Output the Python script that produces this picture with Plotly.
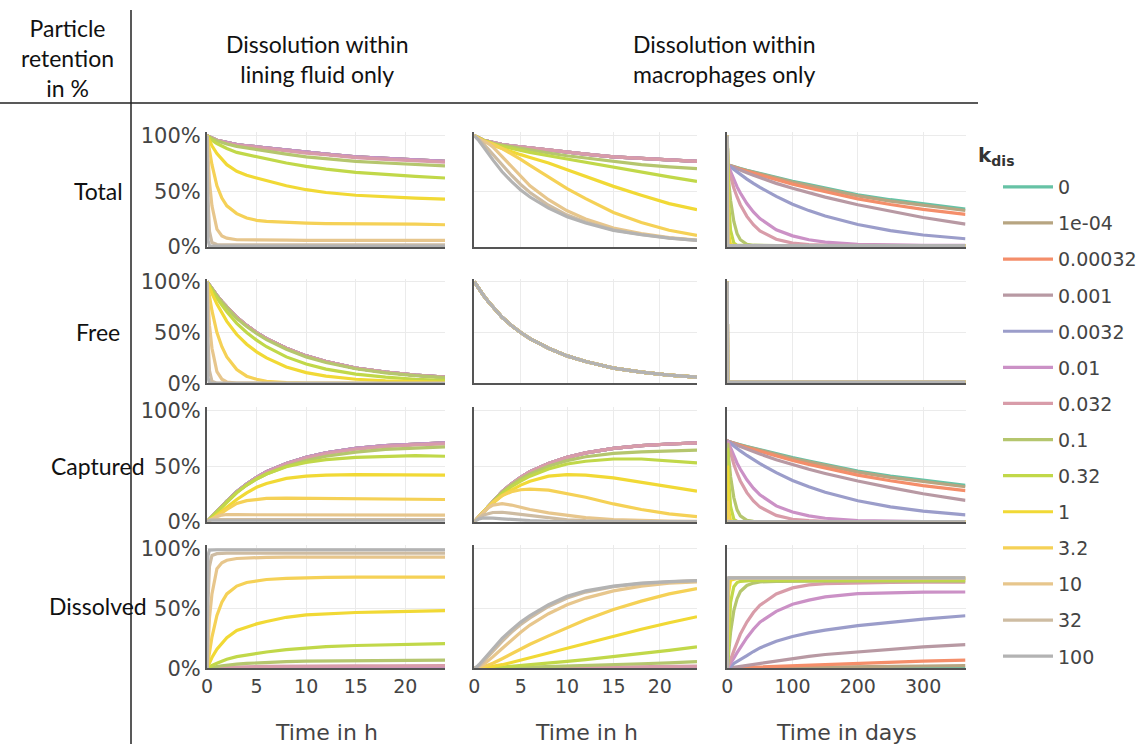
import plotly.graph_objects as go
from plotly.subplots import make_subplots

# ---------------- categories ----------------
KDIS = ["0", "1e-04", "0.00032", "0.001", "0.0032", "0.01", "0.032",
        "0.1", "0.32", "1", "3.2", "10", "32", "100"]
COLORS = ["#66c2a5", "#b7a581", "#f48e6a", "#b899a3", "#9b9dca", "#cb91c6", "#d89ca9",
          "#b5c66e", "#c1d849", "#f1d935", "#f5d156", "#e7c68c", "#cebca2", "#b3b3b3"]
ROW_LABELS = ["Total", "Free", "Captured", "Dissolved"]

# time grids
T_H = [0, 0.1, 0.25, 0.5, 1, 1.5, 2, 3, 4, 5, 6, 8, 10, 12, 15, 18, 21, 24]
T_D = [0, 0.5, 2, 5, 10, 15, 20, 30, 40, 50, 75, 100, 125, 150, 200, 250, 300, 365]
ZERO = [0, 0, 0, 0, 0, 0, 0, 0, 0, 0, 0, 0, 0, 0, 0, 0, 0, 0]

# ---------------- column 1: dissolution within lining fluid (hours) ----------------
LF_TOT_LOW = [100, 99.5, 99, 98, 96, 95, 93.5, 92, 91, 90, 89, 87, 85, 83.5, 81, 79.5, 78, 77]
LF_TOT_K0_032 = [100, 99.5, 99, 98, 96, 94.8, 93.3, 91.7, 90.6, 89.6, 88.5, 86.5, 84.4, 82.9, 80.3, 78.7, 77.2, 76.2]
LF_TOT_K0_1 = [100, 99.4, 98.8, 97.5, 95.5, 94, 92.5, 90.5, 89, 87.5, 86, 83.5, 81, 79.5, 77, 75.5, 74, 73]
LF_TOT_K0_32 = [100, 99, 98, 96, 93, 90.5, 88.5, 85, 83, 81, 79, 75.5, 72.5, 70, 67, 65, 63.5, 62]
LF_TOT_K1 = [100, 98, 95, 91, 84, 78.5, 74, 68, 64.5, 62, 59.5, 55, 51.5, 49, 46.5, 45, 44, 43]
LF_TOT_K3_2 = [100, 94, 86, 74, 55, 44, 37, 30, 26, 24, 23, 22, 21.5, 21, 21, 20.5, 20.5, 20]
LF_TOT_K10 = [100, 80, 58, 37, 16, 10, 8, 6.5, 6.3, 6.2, 6.2, 6.1, 6, 6, 6, 6, 6, 6]
LF_TOT_K32 = [100, 45, 14, 4, 2.2, 2.1, 2, 2, 2, 2, 2, 2, 2, 2, 2, 2, 2, 2]
LF_TOT_K100 = [100, 6, 1, 0.7, 0.7, 0.7, 0.7, 0.7, 0.7, 0.7, 0.7, 0.7, 0.7, 0.7, 0.7, 0.7, 0.7, 0.7]

LF_FREE_LOW = [100, 98.6, 96.5, 93, 86.5, 80.5, 75, 65, 57, 50, 44, 34.5, 27, 21.5, 15, 11, 8, 6]
LF_FREE_K0_1 = [100, 98.5, 96.3, 92.6, 86, 80, 74.3, 64, 56, 49, 43, 33.5, 26, 20.5, 14.3, 10.3, 7.5, 5.5]
LF_FREE_K0_32 = [100, 98.3, 95.8, 91.5, 84, 77, 70.5, 59, 50, 42.5, 36, 26, 19, 14, 9, 6, 4, 3]
LF_FREE_K1 = [100, 97.5, 94, 88.5, 78, 69, 61, 48, 38.5, 31, 25, 16, 10.5, 7, 4, 2.5, 1.5, 1]
LF_FREE_K3_2 = [100, 93.5, 85, 71.5, 50, 36, 26, 13.5, 7, 4, 2, 0.7, 0.3, 0.1, 0, 0, 0, 0]
LF_FREE_K10 = [100, 79.5, 57, 34.5, 11.5, 4, 1.3, 0.2, 0, 0, 0, 0, 0, 0, 0, 0, 0, 0]
LF_FREE_K32 = [100, 44, 12.5, 2, 0.1, 0, 0, 0, 0, 0, 0, 0, 0, 0, 0, 0, 0, 0]
LF_FREE_K100 = [100, 5.5, 0.3, 0, 0, 0, 0, 0, 0, 0, 0, 0, 0, 0, 0, 0, 0, 0]

LF_CAP_LOW = [0, 0.9, 2.5, 5, 9.5, 14.5, 18.5, 27, 34, 40, 45, 52.5, 58, 62, 66, 68.5, 70, 71]
LF_CAP_K0_032 = [0, 0.9, 2.5, 5, 9.5, 14.3, 18.3, 26.7, 33.6, 39.6, 44.5, 52, 57.4, 61.4, 65.3, 67.7, 69.2, 70.2]
LF_CAP_K0_1 = [0, 0.9, 2.5, 4.9, 9.5, 14, 18.2, 26.5, 33, 38.5, 43, 50, 55, 59, 62.7, 65.2, 66.5, 67.5]
LF_CAP_K0_32 = [0, 0.7, 2.2, 4.5, 9, 13.5, 18, 26, 33, 38.5, 43, 49.5, 53.5, 56, 58, 59, 59.5, 59]
LF_CAP_K1 = [0, 0.5, 1, 2.5, 6, 9.5, 13, 20, 26, 31, 34.5, 39, 41, 42, 42.5, 42.5, 42.5, 42]
LF_CAP_K3_2 = [0, 0.5, 1, 2.5, 5, 8, 11, 16.5, 19, 20, 21, 21.3, 21.2, 21, 21, 20.5, 20.5, 20]
LF_CAP_K10 = [0, 0.5, 1, 2.5, 4.5, 6, 6.5, 6.3, 6.3, 6.2, 6.2, 6.1, 6, 6, 6, 6, 6, 6]
LF_CAP_K32 = [0, 1, 1.5, 2, 2.1, 2, 2, 2, 2, 2, 2, 2, 2, 2, 2, 2, 2, 2]
LF_CAP_K100 = [0, 0.5, 0.7, 0.7, 0.7, 0.7, 0.7, 0.7, 0.7, 0.7, 0.7, 0.7, 0.7, 0.7, 0.7, 0.7, 0.7, 0.7]

LF_DIS_K0_01 = [0, 0, 0, 0.1, 0.2, 0.2, 0.3, 0.4, 0.5, 0.5, 0.5, 0.6, 0.6, 0.7, 0.7, 0.7, 0.7, 0.7]
LF_DIS_K0_032 = [0, 0.1, 0.1, 0.3, 0.5, 0.7, 0.9, 1.2, 1.4, 1.5, 1.6, 1.8, 1.9, 2, 2.1, 2.1, 2.2, 2.2]
LF_DIS_K0_1 = [0, 0.2, 0.4, 0.8, 1.5, 2.1, 2.7, 3.5, 4.1, 4.6, 5, 5.5, 6, 6.2, 6.5, 6.6, 6.7, 6.8]
LF_DIS_K0_32 = [0, 0.5, 1.2, 2.3, 4.2, 6, 7.5, 9.7, 11.2, 12.5, 13.6, 15.5, 17, 18, 19, 19.7, 20.2, 20.5]
LF_DIS_K1 = [0, 2, 5, 9, 16, 21, 25.5, 31.5, 34.5, 37, 39, 42.5, 44.5, 45.5, 46.5, 47, 47.5, 48]
LF_DIS_K3_2 = [0, 6, 14, 26, 44, 55, 62, 68.5, 71.5, 73, 74, 75, 75.5, 75.7, 76, 76, 76, 76]
LF_DIS_K10 = [0, 20, 42, 62, 83, 88, 90, 91.5, 92, 92.3, 92.5, 92.6, 92.6, 92.6, 92.6, 92.6, 92.6, 92.6]
LF_DIS_K32 = [0, 55, 85, 94, 95.5, 95.8, 96, 96, 96, 96, 96, 96, 96, 96, 96, 96, 96, 96]
LF_DIS_K100 = [0, 94, 98.5, 98.8, 98.8, 98.8, 98.8, 98.8, 98.8, 98.8, 98.8, 98.8, 98.8, 98.8, 98.8, 98.8, 98.8, 98.8]

# ---------------- column 2: dissolution within macrophages (hours) ----------------
MP_FREE_ALL = [100, 98.6, 96.5, 93, 86.5, 80.5, 75, 65, 57, 50, 44, 34.5, 27, 21.5, 15, 11, 8, 6]

MP_TOT_LOW = [100, 99.5, 99, 98, 96, 95, 93.5, 92, 91, 90, 89, 87, 85, 83.5, 81, 79.5, 78, 77]
MP_TOT_K0_1 = [100, 99.5, 99, 98, 95.9, 94.7, 93.2, 91.5, 90, 88.5, 87, 84.5, 82, 80, 76.5, 74, 72, 70.5]
MP_TOT_K0_32 = [100, 99.5, 98.9, 97.9, 95.7, 94.3, 92.6, 90.5, 88.5, 86.5, 85, 82, 79, 76, 71.5, 67.5, 63, 59]
MP_TOT_K1 = [100, 99.5, 98.8, 97.7, 95.3, 93.5, 91.5, 88.5, 85.5, 83, 80.5, 75.5, 69.5, 63.5, 54.5, 46.5, 39, 33.5]
MP_TOT_K3_2 = [100, 99.4, 98.6, 97.5, 95.5, 94, 92.5, 88.5, 84, 78.8, 73.3, 63, 52.5, 43.5, 31, 22, 15, 10.5]
MP_TOT_K10 = [100, 99.4, 98.5, 97.2, 95, 93, 90, 81.3, 72, 63, 55, 42.5, 32.5, 25.2, 17, 12, 8.5, 6.3]
MP_TOT_K32 = [100, 99.3, 98.3, 96.5, 92.5, 88, 83.3, 73.5, 64.5, 56.2, 49, 37.5, 28.7, 22.5, 15.4, 11.2, 8.1, 6]
MP_TOT_K100 = [100, 99.2, 97.9, 95.5, 89.9, 84, 78.3, 67.6, 58.9, 51.3, 44.9, 34.9, 27.2, 21.6, 15, 11, 8, 6]

MP_CAP_LOW = [0, 0.9, 2.5, 5, 9.5, 14.5, 18.5, 27, 34, 40, 45, 52.5, 58, 62, 66, 68.5, 70, 71]
MP_CAP_K0_1 = [0, 0.9, 2.5, 5, 9.4, 14.2, 18.2, 26.5, 33, 38.5, 43, 50, 55, 58.5, 61.5, 63, 64, 64.5]
MP_CAP_K0_32 = [0, 0.9, 2.4, 4.9, 9.2, 13.8, 17.6, 25.5, 31.5, 36.5, 41, 47.5, 52, 54.5, 56.5, 56.5, 55, 53]
MP_CAP_K1 = [0, 0.9, 2.3, 4.7, 8.8, 13, 16.5, 23.5, 28.5, 33, 36.5, 41, 42.5, 42, 39.5, 35.5, 31, 27.5]
MP_CAP_K3_2 = [0, 0.8, 2.1, 4.5, 9, 13.5, 17.5, 23.5, 27, 28.8, 29.3, 28.5, 25.5, 22, 16, 11, 7, 4.5]
MP_CAP_K10 = [0, 0.8, 2, 4.2, 8.5, 12.5, 15, 16.3, 15, 13, 11, 8, 5.5, 3.7, 2, 1, 0.5, 0.3]
MP_CAP_K32 = [0, 0.7, 1.8, 3.5, 6, 7.5, 8.3, 8.5, 7.5, 6.2, 5, 3, 1.7, 1, 0.4, 0.2, 0.1, 0]
MP_CAP_K100 = [0, 0.6, 1.4, 2.5, 3.4, 3.5, 3.3, 2.6, 1.9, 1.3, 0.9, 0.4, 0.2, 0.1, 0, 0, 0, 0]

MP_DIS_K0_01 = [0, 0, 0, 0, 0, 0, 0, 0, 0.1, 0.1, 0.1, 0.1, 0.2, 0.2, 0.3, 0.4, 0.5, 0.6]
MP_DIS_K0_032 = [0, 0, 0, 0, 0, 0, 0, 0.1, 0.2, 0.2, 0.3, 0.4, 0.6, 0.7, 1, 1.2, 1.5, 1.8]
MP_DIS_K0_1 = [0, 0, 0, 0, 0, 0.1, 0.1, 0.3, 0.5, 0.7, 0.9, 1.3, 1.8, 2.3, 3, 3.8, 4.6, 5.5]
MP_DIS_K0_32 = [0, 0, 0, 0, 0.1, 0.3, 0.5, 1, 1.6, 2.2, 2.9, 4.3, 5.8, 7.3, 9.7, 12.2, 15, 17.8]
MP_DIS_K1 = [0, 0, 0, 0.1, 0.5, 1, 1.6, 3, 4.8, 6.8, 9, 13, 17, 21, 27, 32.5, 38, 43]
MP_DIS_K3_2 = [0, 0, 0.1, 0.4, 1.3, 2.6, 4.2, 8, 12, 16, 20, 27, 34, 40.5, 49, 56, 62, 66.5]
MP_DIS_K10 = [0, 0.1, 0.3, 1, 3.2, 6, 9.5, 16.5, 23.5, 30, 36, 45.5, 53, 58.5, 64.5, 68.5, 71, 72]
MP_DIS_K32 = [0, 0.2, 0.7, 2, 5.5, 10, 14.5, 22.5, 30, 36.5, 42, 51.5, 58.5, 63.5, 68, 70.5, 72, 73]
MP_DIS_K100 = [0, 0.4, 1.2, 3, 7.5, 12.5, 17, 25, 32, 38.5, 44, 53, 60, 64.5, 68.5, 71, 72.3, 73]

# ---------------- column 3: dissolution within macrophages (days) ----------------
LT_FREE_ALL = [100, 1.3, 1.3, 1.3, 1.3, 1.3, 1.3, 1.3, 1.3, 1.3, 1.3, 1.3, 1.3, 1.3, 1.3, 1.3, 1.3, 1.3]

LT_TOT_K0 = [100, 74, 73.6, 73, 72.2, 71.4, 70.6, 69, 67.5, 66, 62.5, 59, 56, 53, 47, 42.5, 38.5, 34]
LT_TOT_K1E4 = [100, 74, 73.6, 73, 72.1, 71.3, 70.4, 68.8, 67.2, 65.6, 61.9, 58.3, 55.2, 52.1, 46, 41.3, 37.3, 32.8]
LT_TOT_K0_00032 = [100, 74, 73.5, 72.8, 71.8, 70.9, 69.9, 68, 66.3, 64.5, 60.4, 56.5, 53, 49.7, 43.3, 38.2, 33.8, 29.3]
LT_TOT_K0_001 = [100, 74, 73.5, 72.7, 71.5, 70.3, 69.1, 66.8, 64.5, 62.3, 57.2, 52.8, 48.5, 44.8, 38, 32, 26.5, 20.5]
LT_TOT_K0_0032 = [100, 74, 73.2, 71.8, 69.5, 67.3, 65.1, 61, 57.2, 53.6, 45.5, 38.5, 32.7, 27.8, 20.2, 14.7, 10.8, 7.4]
LT_TOT_K0_01 = [100, 74, 72, 67.5, 60.5, 54, 48.5, 39, 31.5, 25.5, 15.5, 10, 6.5, 4.4, 2.4, 1.7, 1.5, 1.4]
LT_TOT_K0_032 = [100, 73.4, 70, 63, 53, 45, 38, 27.5, 20, 14.5, 7, 3.5, 2.2, 1.7, 1.4, 1.3, 1.3, 1.3]
LT_TOT_K0_1 = [100, 72, 60, 42, 23, 12, 6.5, 2.5, 1.6, 1.4, 1.3, 1.3, 1.3, 1.3, 1.3, 1.3, 1.3, 1.3]
LT_TOT_K0_32 = [100, 68, 40, 15, 3.5, 1.6, 1.4, 1.3, 1.3, 1.3, 1.3, 1.3, 1.3, 1.3, 1.3, 1.3, 1.3, 1.3]
LT_TOT_K1 = [100, 52, 12, 2, 1.3, 1.3, 1.3, 1.3, 1.3, 1.3, 1.3, 1.3, 1.3, 1.3, 1.3, 1.3, 1.3, 1.3]
LT_TOT_K3_2 = [100, 20, 1.5, 1.3, 1.3, 1.3, 1.3, 1.3, 1.3, 1.3, 1.3, 1.3, 1.3, 1.3, 1.3, 1.3, 1.3, 1.3]
LT_TOT_K10 = [100, 3, 1.3, 1.3, 1.3, 1.3, 1.3, 1.3, 1.3, 1.3, 1.3, 1.3, 1.3, 1.3, 1.3, 1.3, 1.3, 1.3]
LT_TOT_K32 = [100, 1.5, 1.3, 1.3, 1.3, 1.3, 1.3, 1.3, 1.3, 1.3, 1.3, 1.3, 1.3, 1.3, 1.3, 1.3, 1.3, 1.3]
LT_TOT_K100 = [100, 1.3, 1.3, 1.3, 1.3, 1.3, 1.3, 1.3, 1.3, 1.3, 1.3, 1.3, 1.3, 1.3, 1.3, 1.3, 1.3, 1.3]

LT_CAP_K0 = [0, 72.7, 72.3, 71.7, 70.9, 70.1, 69.3, 67.7, 66.2, 64.7, 61.2, 57.7, 54.7, 51.7, 45.7, 41.2, 37.2, 32.7]
LT_CAP_K1E4 = [0, 72.7, 72.3, 71.7, 70.8, 70, 69.1, 67.5, 65.9, 64.3, 60.6, 57, 53.9, 50.8, 44.7, 40, 36, 31.5]
LT_CAP_K0_00032 = [0, 72.7, 72.2, 71.5, 70.5, 69.6, 68.6, 66.7, 65, 63.2, 59.1, 55.2, 51.7, 48.4, 42, 36.9, 32.5, 28]
LT_CAP_K0_001 = [0, 72.7, 72.2, 71.4, 70.2, 69, 67.8, 65.5, 63.2, 61, 55.9, 51.5, 47.2, 43.5, 36.7, 30.7, 25.2, 19.2]
LT_CAP_K0_0032 = [0, 72.7, 71.9, 70.5, 68.2, 66, 63.8, 59.7, 55.9, 52.3, 44.2, 37.2, 31.4, 26.5, 18.9, 13.4, 9.5, 6.1]
LT_CAP_K0_01 = [0, 72.7, 70.7, 66.2, 59.2, 52.7, 47.2, 37.7, 30.2, 24.2, 14.2, 8.7, 5.2, 3.1, 1.1, 0.4, 0.2, 0.1]
LT_CAP_K0_032 = [0, 72.1, 68.7, 61.7, 51.7, 43.7, 36.7, 26.2, 18.7, 13.2, 5.7, 2.2, 0.9, 0.4, 0.1, 0, 0, 0]
LT_CAP_K0_1 = [0, 70.7, 58.7, 40.7, 21.7, 10.7, 5.2, 1.2, 0.3, 0.1, 0, 0, 0, 0, 0, 0, 0, 0]
LT_CAP_K0_32 = [0, 66.7, 38.7, 13.7, 2.2, 0.3, 0.1, 0, 0, 0, 0, 0, 0, 0, 0, 0, 0, 0]
LT_CAP_K1 = [0, 50.7, 10.7, 0.7, 0, 0, 0, 0, 0, 0, 0, 0, 0, 0, 0, 0, 0, 0]
LT_CAP_K3_2 = [0, 18.7, 0.2, 0, 0, 0, 0, 0, 0, 0, 0, 0, 0, 0, 0, 0, 0, 0]
LT_CAP_K10 = [0, 1.7, 0, 0, 0, 0, 0, 0, 0, 0, 0, 0, 0, 0, 0, 0, 0, 0]
LT_CAP_K32 = [0, 0.2, 0, 0, 0, 0, 0, 0, 0, 0, 0, 0, 0, 0, 0, 0, 0, 0]

LT_DIS_K1E4 = [0, 0, 0, 0, 0.1, 0.1, 0.2, 0.2, 0.3, 0.4, 0.6, 0.8, 1, 1.1, 1.4, 1.7, 1.9, 2.2]
LT_DIS_K0_00032 = [0, 0, 0, 0.1, 0.2, 0.4, 0.5, 0.7, 0.9, 1.2, 1.8, 2.3, 2.8, 3.3, 4.2, 5.1, 5.9, 6.8]
LT_DIS_K0_001 = [0, 0, 0.1, 0.4, 0.8, 1.2, 1.6, 2.4, 3.2, 4, 6, 8.2, 10, 11.5, 13.7, 15.9, 17.8, 19.7]
LT_DIS_K0_0032 = [0, 0.1, 0.5, 1.2, 4, 5.8, 7.5, 10.5, 14, 17, 22.5, 26.5, 29.5, 31.8, 35.6, 38.5, 41, 43.8]
LT_DIS_K0_01 = [0, 0.4, 1.5, 4, 8.5, 13, 17.5, 25.5, 32.5, 38.5, 47.5, 53.4, 56.8, 59.5, 62.2, 63, 63.4, 63.6]
LT_DIS_K0_032 = [0, 0.6, 2.5, 7, 14.5, 22, 28.5, 38.5, 46.5, 52.5, 62, 67, 69.5, 70.5, 71.3, 71.6, 71.8, 71.8]
LT_DIS_K0_1 = [0, 3, 13, 30, 48, 58, 64, 69, 71, 72, 72.5, 72.7, 72.7, 72.7, 72.7, 72.7, 72.7, 72.7]
LT_DIS_K0_32 = [0, 6, 30, 55, 68, 71.5, 72.5, 73, 73.2, 73.3, 73.5, 73.5, 73.5, 73.5, 73.5, 73.5, 73.5, 73.5]
LT_DIS_K1 = [0, 24, 63, 73.5, 74.5, 74.8, 75, 75, 75, 75, 75, 75, 75, 75, 75, 75, 75, 75]
LT_DIS_K3_2 = [0, 57, 74.3, 75, 75, 75, 75, 75, 75, 75, 75, 75, 75, 75, 75, 75, 75, 75]
LT_DIS_K10 = [0, 73.5, 75, 75.2, 75.2, 75.2, 75.2, 75.2, 75.2, 75.2, 75.2, 75.2, 75.2, 75.2, 75.2, 75.2, 75.2, 75.2]
LT_DIS_K32 = [0, 75.1, 75.3, 75.3, 75.3, 75.3, 75.3, 75.3, 75.3, 75.3, 75.3, 75.3, 75.3, 75.3, 75.3, 75.3, 75.3, 75.3]
LT_DIS_K100 = [0, 75.3, 75.3, 75.3, 75.3, 75.3, 75.3, 75.3, 75.3, 75.3, 75.3, 75.3, 75.3, 75.3, 75.3, 75.3, 75.3, 75.3]

# ---------------- series per panel (order follows KDIS) ----------------
L = LF_TOT_LOW
LF_TOTAL = [L, L, L, L, L, L, LF_TOT_K0_032, LF_TOT_K0_1, LF_TOT_K0_32, LF_TOT_K1,
            LF_TOT_K3_2, LF_TOT_K10, LF_TOT_K32, LF_TOT_K100]
L = LF_FREE_LOW
LF_FREE = [L, L, L, L, L, L, L, LF_FREE_K0_1, LF_FREE_K0_32, LF_FREE_K1,
           LF_FREE_K3_2, LF_FREE_K10, LF_FREE_K32, LF_FREE_K100]
L = LF_CAP_LOW
LF_CAPT = [L, L, L, L, L, L, LF_CAP_K0_032, LF_CAP_K0_1, LF_CAP_K0_32, LF_CAP_K1,
           LF_CAP_K3_2, LF_CAP_K10, LF_CAP_K32, LF_CAP_K100]
LF_DISS = [ZERO, ZERO, ZERO, ZERO, ZERO, LF_DIS_K0_01, LF_DIS_K0_032, LF_DIS_K0_1, LF_DIS_K0_32,
           LF_DIS_K1, LF_DIS_K3_2, LF_DIS_K10, LF_DIS_K32, LF_DIS_K100]

L = MP_TOT_LOW
MP_TOTAL = [L, L, L, L, L, L, L, MP_TOT_K0_1, MP_TOT_K0_32, MP_TOT_K1,
            MP_TOT_K3_2, MP_TOT_K10, MP_TOT_K32, MP_TOT_K100]
MP_FREE = [MP_FREE_ALL] * 14
L = MP_CAP_LOW
MP_CAPT = [L, L, L, L, L, L, L, MP_CAP_K0_1, MP_CAP_K0_32, MP_CAP_K1,
           MP_CAP_K3_2, MP_CAP_K10, MP_CAP_K32, MP_CAP_K100]
MP_DISS = [ZERO, ZERO, ZERO, ZERO, ZERO, MP_DIS_K0_01, MP_DIS_K0_032, MP_DIS_K0_1, MP_DIS_K0_32,
           MP_DIS_K1, MP_DIS_K3_2, MP_DIS_K10, MP_DIS_K32, MP_DIS_K100]

LT_TOTAL = [LT_TOT_K0, LT_TOT_K1E4, LT_TOT_K0_00032, LT_TOT_K0_001, LT_TOT_K0_0032, LT_TOT_K0_01,
            LT_TOT_K0_032, LT_TOT_K0_1, LT_TOT_K0_32, LT_TOT_K1, LT_TOT_K3_2, LT_TOT_K10,
            LT_TOT_K32, LT_TOT_K100]
LT_FREE = [LT_FREE_ALL] * 14
LT_CAPT = [LT_CAP_K0, LT_CAP_K1E4, LT_CAP_K0_00032, LT_CAP_K0_001, LT_CAP_K0_0032, LT_CAP_K0_01,
           LT_CAP_K0_032, LT_CAP_K0_1, LT_CAP_K0_32, LT_CAP_K1, LT_CAP_K3_2, LT_CAP_K10,
           LT_CAP_K32, ZERO]
LT_DISS = [ZERO, LT_DIS_K1E4, LT_DIS_K0_00032, LT_DIS_K0_001, LT_DIS_K0_0032, LT_DIS_K0_01,
           LT_DIS_K0_032, LT_DIS_K0_1, LT_DIS_K0_32, LT_DIS_K1, LT_DIS_K3_2, LT_DIS_K10,
           LT_DIS_K32, LT_DIS_K100]

PANELS = [
    (1, 1, T_H, LF_TOTAL), (1, 2, T_H, MP_TOTAL), (1, 3, T_D, LT_TOTAL),
    (2, 1, T_H, LF_FREE), (2, 2, T_H, MP_FREE), (2, 3, T_D, LT_FREE),
    (3, 1, T_H, LF_CAPT), (3, 2, T_H, MP_CAPT), (3, 3, T_D, LT_CAPT),
    (4, 1, T_H, LF_DISS), (4, 2, T_H, MP_DISS), (4, 3, T_D, LT_DISS),
]

# ---------------- figure ----------------
W, H = 1143, 744
fig = make_subplots(rows=4, cols=3)

for r, c, t, series in PANELS:
    for lab, col, y in zip(KDIS, COLORS, series):
        assert len(y) == len(t)
        fig.add_trace(go.Scatter(x=t, y=y, mode="lines", name=lab, legendgroup=lab,
                                 showlegend=(r == 1 and c == 1),
                                 line=dict(color=col, width=3.2),
                                 hoverinfo="skip"), row=r, col=c)

XD = [(207, 445), (474.3, 697), (727.3, 965.5)]
YD = [(132.4, 247), (278.7, 383.3), (407.4, 521.7), (544.7, 668.3)]
XRANGE = [[0, 24], [0, 24], [0, 365]]
XTICKS = [[0, 5, 10, 15, 20], [0, 5, 10, 15, 20], [0, 100, 200, 300]]
TICK_FONT = dict(family="DejaVu Sans, Verdana, sans-serif", size=19, color="#444")

for r in range(4):
    for c in range(3):
        fig.update_xaxes(domain=[XD[c][0] / W, XD[c][1] / W], range=XRANGE[c],
                         tickvals=XTICKS[c], showticklabels=(r == 3),
                         showgrid=True, gridcolor="#ebebeb", gridwidth=1,
                         showline=True, linecolor="#555", linewidth=2,
                         zeroline=False, ticks="", tickfont=TICK_FONT,
                         row=r + 1, col=c + 1)
        fig.update_yaxes(domain=[1 - YD[r][1] / H, 1 - YD[r][0] / H], range=[0, 103],
                         tickvals=[0, 50, 100], ticktext=["0%", "50%", "100%"],
                         showticklabels=(c == 0),
                         showgrid=True, gridcolor="#ebebeb", gridwidth=1,
                         showline=True, linecolor="#555", linewidth=2,
                         zeroline=False, ticks="", tickfont=dict(TICK_FONT, size=21),
                         row=r + 1, col=c + 1)

HEAD_FONT = dict(family="Lato, Carlito, sans-serif", size=23, color="#111")
annotations = [
    dict(text="Particle<br>retention<br>in %", x=67 / W, y=1 - 58 / H),
    dict(text="Dissolution within<br>lining fluid only", x=317 / W, y=1 - 59 / H),
    dict(text="Dissolution within<br>macrophages only", x=724 / W, y=1 - 59 / H),
]
for lab, yc in zip(ROW_LABELS, [191, 332, 466, 606]):
    annotations.append(dict(text=lab, x=98 / W, y=1 - yc / H))
for a in annotations:
    a.update(xref="paper", yref="paper", xanchor="center", yanchor="middle",
             showarrow=False, font=HEAD_FONT)

for txt, xc in [("Time in h", 326), ("Time in h", 586), ("Time in days", 846)]:
    annotations.append(dict(text=txt, x=xc / W, y=1 - 732 / H, xref="paper", yref="paper",
                            xanchor="center", yanchor="middle", showarrow=False,
                            font=dict(family="DejaVu Sans, Verdana, sans-serif", size=22,
                                      color="#444")))

# legend title
annotations.append(dict(text="<b>k<sub>dis</sub></b>", x=976 / W, y=1 - 156 / H,
                        xref="paper", yref="paper", xanchor="left", yanchor="middle",
                        showarrow=False,
                        font=dict(family="DejaVu Sans, Verdana, sans-serif", size=20,
                                  color="#333")))

shapes = [
    dict(type="line", xref="paper", yref="paper", x0=131 / W, x1=131 / W, y0=0, y1=1 - 10 / H,
         line=dict(color="#222", width=1.5)),
    dict(type="line", xref="paper", yref="paper", x0=0, x1=978 / W, y0=1 - 103 / H, y1=1 - 103 / H,
         line=dict(color="#222", width=1.5)),
]

fig.update_layout(
    width=W, height=H,
    margin=dict(l=0, r=0, t=0, b=0, pad=0, autoexpand=False),
    paper_bgcolor="white", plot_bgcolor="white",
    annotations=annotations, shapes=shapes,
    showlegend=True,
    legend=dict(x=998 / W, xanchor="left", y=1 - 168 / H, yanchor="top",
                font=dict(family="DejaVu Sans, Verdana, sans-serif", size=19, color="#444"),
                tracegroupgap=8.4, itemwidth=50, bgcolor="rgba(0,0,0,0)"),
)

fig.write_html("out.html", config={"displayModeBar": False},
               post_script="document.body.style.margin='0px';document.body.style.padding='0px';")
